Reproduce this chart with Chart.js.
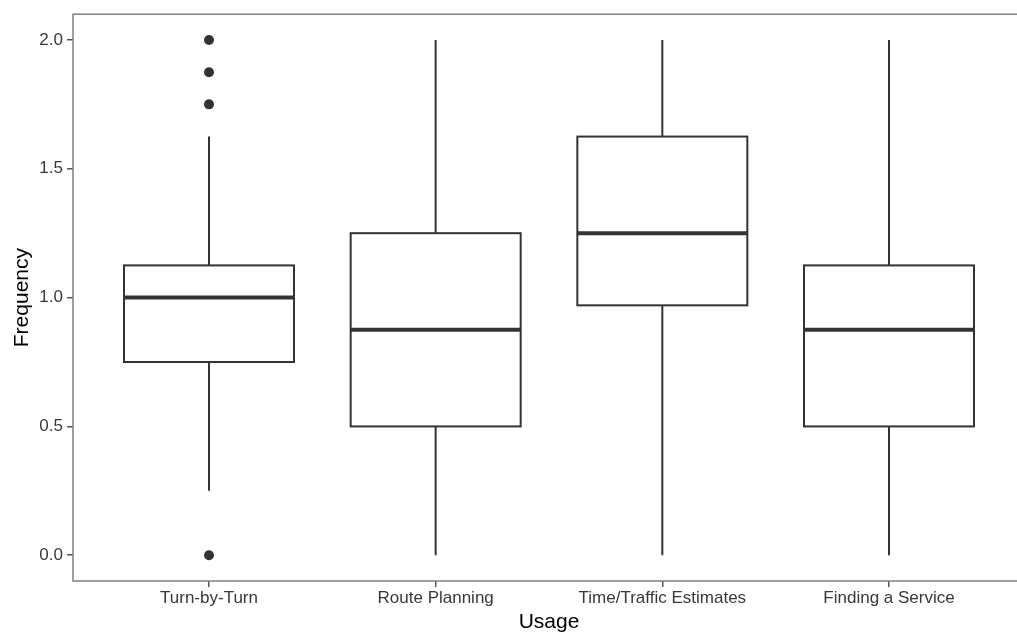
<!DOCTYPE html>
<html>
<head>
<meta charset="utf-8">
<script src="https://cdn.jsdelivr.net/npm/chart.js@4"></script>
<style>
  html, body { margin: 0; padding: 0; background: #fff; overflow: hidden; }
  /* panel runs past the right edge of the window, like the reference */
  #wrap { width: 1030px; height: 632px; }
</style>
</head>
<body>
<div id="wrap"><canvas id="boxChart"></canvas></div>
<script>
// Data
const categories = ['Turn-by-Turn', 'Route Planning', 'Time/Traffic Estimates', 'Finding a Service'];
const whiskerLow = [0.25, 0, 0, 0];
const q1 = [0.75, 0.5, 0.97, 0.5];
const median = [1.0, 0.875, 1.25, 0.875];
const q3 = [1.125, 1.25, 1.625, 1.125];
const whiskerHigh = [1.625, 2, 2, 2];
const outlierCategory = [0, 0, 0, 0];
const outlierValues = [2.0, 1.875, 1.75, 0.0];
const yTicks = [0, 0.5, 1, 1.5, 2];

const ink = '#333333';
const frame = '#808080';
const boxWidth = 0.75;

// Draw panel frame and boxes from the chart's scales
const boxPlugin = {
  id: 'boxes',
  beforeDatasetsDraw(chart) {
    const { ctx, chartArea, scales: { x, y } } = chart;
    ctx.save();

    ctx.strokeStyle = frame;
    ctx.lineWidth = 1.5;
    ctx.strokeRect(chartArea.left, chartArea.top,
      chartArea.right - chartArea.left, chartArea.bottom - chartArea.top);

    const line = (x0, y0, x1, y1) => {
      ctx.beginPath();
      ctx.moveTo(x0, y0);
      ctx.lineTo(x1, y1);
      ctx.stroke();
    };

    categories.forEach((c, i) => {
      const cx = x.getPixelForValue(i);
      const left = x.getPixelForValue(i - boxWidth / 2);
      const right = x.getPixelForValue(i + boxWidth / 2);
      const top = y.getPixelForValue(q3[i]);
      const bottom = y.getPixelForValue(q1[i]);

      ctx.strokeStyle = ink;
      ctx.lineWidth = 2;
      line(cx, y.getPixelForValue(whiskerHigh[i]), cx, top);
      line(cx, bottom, cx, y.getPixelForValue(whiskerLow[i]));

      ctx.fillStyle = '#ffffff';
      ctx.fillRect(left, top, right - left, bottom - top);
      ctx.strokeRect(left, top, right - left, bottom - top);

      ctx.lineWidth = 4;
      const my = y.getPixelForValue(median[i]);
      line(left, my, right, my);
    });

    ctx.restore();
  },
};

const tickFont = { family: 'Liberation Sans, Arial, sans-serif', size: 17 };
const titleFont = { family: 'Liberation Sans, Arial, sans-serif', size: 21, lineHeight: 1 };

const options = {
  type: 'scatter',
  data: {
    datasets: [
      {
        label: 'Outliers',
        data: outlierValues.map((v, k) => ({ x: outlierCategory[k], y: v })),
        backgroundColor: ink,
        borderWidth: 0,
        pointRadius: 5,
        pointHoverRadius: 5,
      },
    ],
  },
  options: {
    responsive: true,
    maintainAspectRatio: false,
    animation: false,
    layout: { padding: { top: 12, left: 0, right: 0, bottom: 0 } },
    plugins: {
      legend: { display: false },
      tooltip: { enabled: false },
    },
    scales: {
      x: {
        type: 'linear',
        min: -0.6,
        max: 3.6,
        afterBuildTicks: scale => {
          scale.ticks = categories.map((c, i) => ({ value: i }));
        },
        afterFit: scale => {
          scale.height = 51;
        },
        ticks: {
          callback: value => categories[value],
          autoSkip: false,
          maxRotation: 0,
          color: '#383838',
          font: tickFont,
          padding: 1,
        },
        grid: {
          drawOnChartArea: false,
          drawTicks: true,
          tickLength: 6,
          color: '#555555',
          lineWidth: 1.5,
        },
        border: { display: false },
        title: {
          display: true,
          text: 'Usage',
          color: '#000',
          font: titleFont,
          padding: { top: 0, bottom: -1 },
        },
      },
      y: {
        min: -0.1,
        max: 2.1,
        afterBuildTicks: scale => {
          scale.ticks = yTicks.map(v => ({ value: v }));
        },
        afterFit: scale => {
          scale.width = 73;
        },
        ticks: {
          callback: value => value.toFixed(1),
          color: '#383838',
          font: tickFont,
          padding: 4,
        },
        grid: {
          drawOnChartArea: false,
          drawTicks: true,
          tickLength: 6,
          color: '#555555',
          lineWidth: 1.5,
        },
        border: { display: false },
        title: {
          display: true,
          text: 'Frequency',
          color: '#000',
          font: titleFont,
          padding: { top: 12, bottom: 0 },
        },
      },
    },
  },
  plugins: [boxPlugin],
};

const boxChart = new Chart(document.getElementById('boxChart').getContext('2d'), options);
</script>
</body>
</html>
